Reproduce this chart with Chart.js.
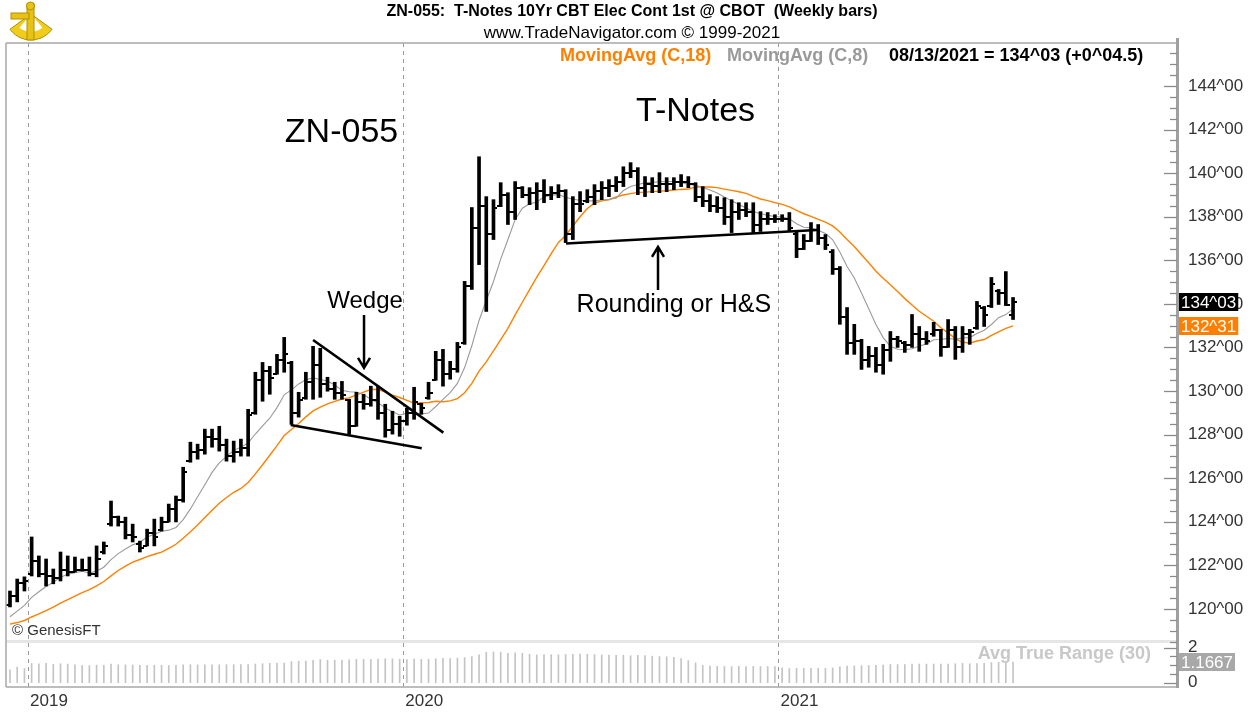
<!DOCTYPE html>
<html>
<head>
<meta charset="utf-8">
<title>ZN-055 T-Notes weekly</title>
<script src="https://cdn.jsdelivr.net/npm/chart.js@4.4.0/dist/chart.umd.min.js"></script>
<style>
  html, body { margin: 0; padding: 0; background: #fff; }
  #wrap { position: relative; width: 1253px; height: 713px; }
</style>
</head>
<body>
<div id="wrap"><canvas id="chart" width="1253" height="713"></canvas></div>
<script>
// weekly bars 12/14/2018 .. 08/13/2021 (index 0 .. 139)
const highs = [
  120.82, 121.37, 121.47, 123.30, 122.43, 122.29, 121.83, 122.61, 122.43, 122.38,
  122.29, 122.38, 122.89, 123.07, 124.95, 124.26, 124.21, 123.89, 123.11, 123.66,
  124.12, 124.21, 124.81, 125.18, 126.50, 127.65, 127.56, 128.25, 128.25, 128.38,
  127.79, 127.70, 127.79, 129.16, 130.86, 131.31, 131.13, 131.68, 132.46, 131.36,
  129.94, 130.86, 132.05, 131.96, 130.63, 130.40, 130.44, 129.62, 129.94, 129.85,
  130.22, 130.22, 129.39, 129.07, 128.84, 129.21, 130.17, 129.44, 130.40, 131.82,
  131.91, 131.36, 132.23, 135.03, 138.42, 140.75, 138.92, 138.78, 139.56, 139.10,
  139.61, 139.38, 139.33, 139.56, 139.70, 139.38, 139.47, 139.24, 138.92, 139.15,
  139.24, 139.47, 139.61, 139.70, 139.84, 140.29, 140.48, 140.25, 139.84, 139.79,
  140.02, 139.79, 139.79, 139.93, 139.84, 139.56, 139.38, 139.01, 138.92, 138.87,
  138.78, 138.64, 138.64, 138.64, 138.23, 138.19, 138.09, 138.09, 138.19, 137.32,
  137.18, 137.73, 137.64, 137.18, 136.49, 135.71, 133.83, 133.06, 132.37, 132.05,
  132.00, 132.14, 132.73, 132.51, 132.28, 133.51, 132.96, 132.73, 133.15, 132.83,
  133.28, 132.96, 132.96, 132.83, 134.11, 133.88, 135.21, 134.66, 135.48, 134.29
];
const lows = [
  120.09, 120.32, 120.82, 121.51, 121.47, 121.05, 121.15, 121.28, 121.51, 121.69,
  121.74, 121.51, 121.47, 122.52, 123.80, 123.80, 123.21, 123.07, 122.61, 122.89,
  122.89, 123.57, 123.99, 123.99, 124.90, 126.73, 126.87, 127.10, 127.42, 127.24,
  126.78, 126.73, 127.01, 127.01, 128.93, 129.53, 129.85, 130.77, 130.86, 128.47,
  128.80, 129.62, 129.62, 129.71, 129.99, 129.62, 129.62, 128.02, 128.38, 129.16,
  129.30, 128.70, 127.88, 128.02, 127.92, 128.43, 128.70, 128.93, 129.62, 130.49,
  130.22, 130.54, 130.86, 132.14, 134.66, 135.80, 133.65, 136.95, 138.46, 137.64,
  137.87, 138.87, 138.55, 138.32, 138.64, 138.78, 138.87, 136.81, 136.95, 138.23,
  138.64, 138.55, 138.78, 138.92, 139.15, 139.38, 139.79, 139.01, 138.92, 139.10,
  139.10, 139.15, 139.24, 139.38, 139.33, 138.69, 138.46, 138.23, 138.19, 137.64,
  137.27, 137.87, 138.00, 137.27, 137.32, 137.64, 137.73, 137.78, 137.32, 136.12,
  136.49, 136.86, 136.72, 136.49, 135.35, 133.06, 131.68, 131.68, 130.99, 131.09,
  130.86, 130.77, 131.36, 132.00, 131.77, 132.00, 131.82, 132.14, 132.51, 131.59,
  132.00, 131.45, 131.77, 132.14, 132.83, 132.96, 133.83, 133.97, 133.92, 133.28
];
const opens = [
  120.2, 120.6, 121.2, 121.6, 122.2, 121.6, 121.5, 121.4, 121.8, 121.7,
  121.8, 121.8, 121.6, 122.6, 123.9, 124.2, 124.0, 123.4, 123.0, 122.9,
  123.5, 123.6, 124.0, 124.6, 125.0, 126.8, 127.2, 127.3, 127.9, 127.8,
  127.5, 127.0, 127.2, 127.4, 129.0, 130.5, 130.9, 130.8, 131.4, 131.3,
  129.0, 129.7, 130.4, 131.2, 130.3, 130.1, 129.9, 129.6, 128.4, 129.5,
  129.4, 129.6, 129.0, 128.2, 128.5, 128.6, 129.0, 129.4, 129.7, 130.5,
  131.4, 130.8, 131.0, 132.2, 134.8, 137.5, 138.5, 137.2, 138.5, 139.0,
  138.2, 139.3, 139.0, 139.1, 139.2, 139.0, 139.1, 139.2, 137.2, 138.6,
  138.7, 138.9, 139.2, 139.3, 139.4, 139.6, 140.0, 140.1, 139.3, 139.5,
  139.4, 139.5, 139.5, 139.6, 139.6, 139.5, 138.9, 138.7, 138.5, 138.4,
  138.0, 138.2, 138.3, 138.2, 137.6, 137.9, 137.9, 137.9, 137.9, 137.2,
  136.5, 136.9, 137.4, 137.0, 136.4, 135.6, 133.4, 132.2, 132.3, 131.4,
  131.6, 131.2, 131.9, 132.4, 132.2, 132.1, 132.6, 132.4, 132.6, 132.8,
  132.0, 132.8, 132.0, 132.6, 132.9, 133.8, 133.9, 134.6, 134.5, 133.5
];
const closes = [
  120.6, 121.2, 121.3, 122.2, 121.6, 121.5, 121.4, 121.8, 121.7, 121.8,
  121.8, 121.6, 122.3, 122.9, 124.2, 124.0, 123.4, 123.3, 122.8, 123.5,
  123.3, 124.0, 124.6, 125.0, 126.3, 127.2, 127.3, 127.9, 127.8, 127.5,
  127.0, 127.2, 127.4, 128.9, 130.5, 130.9, 130.6, 131.4, 131.7, 129.0,
  129.6, 130.4, 131.2, 130.3, 130.1, 129.9, 129.8, 128.4, 129.5, 129.4,
  129.6, 129.0, 128.2, 128.5, 128.6, 129.0, 129.5, 129.2, 129.9, 131.4,
  130.8, 131.0, 132.0, 134.8, 137.5, 138.5, 137.2, 138.4, 139.0, 138.2,
  139.3, 139.0, 139.1, 139.2, 139.0, 139.1, 139.2, 137.2, 138.6, 138.6,
  138.9, 139.2, 139.3, 139.4, 139.6, 140.0, 140.1, 139.3, 139.5, 139.4,
  139.5, 139.5, 139.6, 139.6, 139.5, 138.9, 138.7, 138.5, 138.4, 138.0,
  138.2, 138.3, 138.2, 137.6, 137.9, 137.9, 137.9, 137.9, 137.5, 136.5,
  136.9, 137.4, 137.0, 136.7, 135.6, 133.4, 132.2, 132.3, 131.4, 131.6,
  131.2, 131.9, 132.4, 132.3, 132.1, 132.6, 132.4, 132.3, 132.8, 132.0,
  132.8, 132.0, 132.6, 132.7, 133.9, 133.5, 134.9, 134.5, 133.953, 134.094
];
// closes of the 17 weeks before the first bar, only to start the averages
const priorCloses = [119.9, 119.6, 119.3, 119.0, 118.8, 118.6, 118.5, 118.7, 118.9,
  119.0, 119.1, 119.2, 119.3, 119.5, 119.6, 119.8, 120.0];

// drawn trend lines (bar index, price)
const wedgeUpper = [{ x: 42.0, y: 132.34 }, { x: 60.05, y: 128.09 }];
const wedgeLower = [{ x: 38.9, y: 128.44 }, { x: 57.05, y: 127.37 }];
const neckline = [{ x: 77.05, y: 136.77 }, { x: 111.83, y: 137.39 }];

const yearTicks = [2.5, 54.5, 106.5];
const yearLabels = ["2019", "2020", "2021"];
const priceTicks = [120, 122, 124, 126, 128, 130, 132, 134, 136, 138, 140, 142, 144];
const atrTicks = [0, 2];
const atrReadout = 1.1667;
const readoutText = "08/13/2021 = 134^03 (+0^04.5)";

const FONT = "'Liberation Sans', Arial, sans-serif";
const ORANGE = "#ff8000";
const GRAY = "#9a9a9a";

// price in 32nds, e.g. 134^03
function fmt32(v) {
  const whole = Math.floor(v + 1e-9);
  const n = Math.floor((v - whole) * 32 + 1e-6);
  return whole + "^" + String(n).padStart(2, "0");
}

function movingAvg(len) {
  const all = priorCloses.concat(closes);
  const off = priorCloses.length;
  return closes.map((c, i) => {
    const win = all.slice(Math.max(0, off + i - len + 1), off + i + 1);
    return win.reduce((a, b) => a + b, 0) / win.length;
  });
}

function avgTrueRange(len) {
  const tr = highs.map((h, i) => {
    const l = lows[i];
    if (i === 0) return h - l;
    const pc = closes[i - 1];
    return Math.max(h - l, Math.abs(h - pc), Math.abs(l - pc));
  });
  return tr.map((v, i) => {
    const win = tr.slice(Math.max(0, i - len + 1), i + 1);
    return win.reduce((a, b) => a + b, 0) / win.length;
  });
}

// small horizontal tick used as point style: open on the left, close on the right
function tickImage(side) {
  const c = document.createElement("canvas");
  c.width = 8;
  c.height = 2;
  const g = c.getContext("2d");
  g.fillStyle = "#000";
  g.fillRect(side === "left" ? 0 : 4, 0, 4, 2);
  return c;
}

const ma18 = movingAvg(18);
const ma8 = movingAvg(8);
const atr30 = avgTrueRange(30);

const notes = [
  { text: "ZN-055", x: 45.94, y: 141.84, size: 34 },
  { text: "T-Notes", x: 95.0, y: 142.81, size: 34 },
  { text: "Wedge", x: 49.2, y: 134.09, size: 24 },
  { text: "Rounding or H&S", x: 92.0, y: 133.95, size: 25 }
];
const arrows = [
  { x: 49.06, from: 133.49, to: 131.06 },
  { x: 89.8, from: 134.64, to: 136.61 }
];

function drawArrow(ctx, x, y1, y2) {
  const dir = y2 > y1 ? -1 : 1;
  ctx.beginPath();
  ctx.moveTo(x, y1);
  ctx.lineTo(x, y2);
  ctx.moveTo(x - 6, y2 + dir * 10);
  ctx.lineTo(x, y2);
  ctx.lineTo(x + 6, y2 + dir * 10);
  ctx.stroke();
}

function drawMarks(ctx, scale, step, majorEvery, right) {
  for (let v = Math.ceil(scale.min / step) * step; v <= scale.max; v += step) {
    const y = Math.round(scale.getPixelForValue(v)) + 0.5;
    const r = v / majorEvery;
    const major = Math.abs(r - Math.round(r)) < 1e-6;
    ctx.beginPath();
    ctx.moveTo(right - (major ? 13 : 7), y);
    ctx.lineTo(right, y);
    ctx.stroke();
  }
}

function readoutBox(ctx, x, y, text, bg) {
  ctx.font = "17px " + FONT;
  const w = ctx.measureText(text).width + 4;
  ctx.fillStyle = bg;
  ctx.fillRect(x, Math.round(y) - 9, w, 18);
  ctx.fillStyle = "#fff";
  ctx.textAlign = "left";
  ctx.textBaseline = "middle";
  ctx.fillText(text, x + 2, Math.round(y) + 1);
}

function drawLogo(ctx) {
  ctx.save();
  ctx.fillStyle = "#f0cc1c";
  ctx.strokeStyle = "#b38f00";
  ctx.lineWidth = 1;
  ctx.beginPath();
  ctx.moveTo(31, 14);
  ctx.arc(31, 14, 26, Math.PI * 0.2, Math.PI * 0.8);
  ctx.closePath();
  ctx.fill();
  ctx.stroke();
  ctx.fillStyle = "#ffffff";
  ctx.beginPath();
  ctx.moveTo(31, 14);
  ctx.arc(31, 14, 18, Math.PI * 0.28, Math.PI * 0.72);
  ctx.closePath();
  ctx.fill();
  ctx.fillStyle = "#e8c215";
  ctx.fillRect(27, 4, 7, 36);
  ctx.strokeRect(27, 4, 7, 36);
  ctx.fillRect(11, 13, 18, 6);
  ctx.strokeRect(11, 13, 18, 6);
  ctx.beginPath();
  ctx.arc(30.5, 6, 4, 0, Math.PI * 2);
  ctx.fill();
  ctx.stroke();
  ctx.restore();
}

const decor = {
  id: "decor",
  beforeDraw(chart) {
    const ctx = chart.ctx;
    ctx.save();
    ctx.fillStyle = "#fff";
    ctx.fillRect(0, 0, chart.width, chart.height);
    ctx.restore();
  },
  beforeDatasetsDraw(chart) {
    const { ctx, chartArea } = chart;
    const atr = chart.scales.atr;
    ctx.save();
    ctx.fillStyle = "#e6e6e6";
    ctx.fillRect(chartArea.left, atr.top - 2, chartArea.right - chartArea.left, 3);
    ctx.restore();
  },
  afterDraw(chart) {
    const { ctx, chartArea } = chart;
    const x = chart.scales.x;
    const price = chart.scales.price;
    const atr = chart.scales.atr;
    const L = chartArea.left, R = chartArea.right, T = chartArea.top, B = chartArea.bottom;
    ctx.save();

    // frame
    ctx.strokeStyle = "#a8a8a8";
    ctx.lineWidth = 1.5;
    ctx.beginPath();
    ctx.moveTo(L, T); ctx.lineTo(R, T);
    ctx.moveTo(L, T); ctx.lineTo(L, B);
    ctx.moveTo(L, B); ctx.lineTo(R, B);
    ctx.stroke();
    ctx.strokeStyle = "#a0a0a0";
    ctx.lineWidth = 3;
    ctx.beginPath();
    ctx.moveTo(R + 0.5, 38); ctx.lineTo(R + 0.5, B + 1);
    ctx.stroke();

    // axis marks inside the frame
    ctx.strokeStyle = "#8a8a8a";
    ctx.lineWidth = 1.3;
    drawMarks(ctx, price, 0.5, 2, R);
    drawMarks(ctx, atr, 0.5, 2, R);

    // header
    ctx.fillStyle = "#000";
    ctx.textAlign = "center";
    ctx.textBaseline = "middle";
    ctx.font = "bold 16px " + FONT;
    ctx.fillText("ZN-055:  T-Notes 10Yr CBT Elec Cont 1st @ CBOT  (Weekly bars)", 632, 12);
    ctx.font = "17px " + FONT;
    ctx.fillText("www.TradeNavigator.com \u00a9 1999-2021", 632, 33);
    ctx.textAlign = "left";
    ctx.font = "bold 18px " + FONT;
    ctx.fillStyle = ORANGE;
    ctx.fillText("MovingAvg (C,18)", 560, 56);
    ctx.fillStyle = GRAY;
    ctx.fillText("MovingAvg (C,8)", 727, 56);
    ctx.fillStyle = "#000";
    ctx.fillText(readoutText, 889, 56);
    drawLogo(ctx);

    // annotations
    ctx.fillStyle = "#000";
    ctx.textAlign = "center";
    notes.forEach(n => {
      ctx.font = n.size + "px " + FONT;
      ctx.fillText(n.text, x.getPixelForValue(n.x), price.getPixelForValue(n.y));
    });
    ctx.strokeStyle = "#000";
    ctx.lineWidth = 2.5;
    arrows.forEach(a => {
      drawArrow(ctx, x.getPixelForValue(a.x), price.getPixelForValue(a.from), price.getPixelForValue(a.to));
    });

    ctx.textAlign = "left";
    ctx.fillStyle = "#333";
    ctx.font = "15px " + FONT;
    ctx.fillText("\u00a9 GenesisFT", L + 6, atr.top - 11);
    ctx.textAlign = "right";
    ctx.fillStyle = "#c8c8c8";
    ctx.font = "bold 18px " + FONT;
    ctx.fillText("Avg True Range (30)", R - 26, atr.top + 12);

    // last value boxes on the axis
    const last = closes.length - 1;
    readoutBox(ctx, R + 2, price.getPixelForValue(closes[last]), fmt32(closes[last]), "#000");
    readoutBox(ctx, R + 2, price.getPixelForValue(ma18[last]), fmt32(ma18[last]), ORANGE);
    readoutBox(ctx, R + 2, atr.getPixelForValue(atrReadout), atrReadout.toFixed(4), "#a8a8a8");
    ctx.restore();
  }
};

const trendStyle = {
  type: "line",
  xAxisID: "x",
  yAxisID: "price",
  borderColor: "#000",
  borderWidth: 2.6,
  pointRadius: 0,
  order: -1
};

new Chart(document.getElementById("chart"), {
  type: "bar",
  data: {
    datasets: [
      Object.assign({ label: "Wedge top", data: wedgeUpper }, trendStyle),
      Object.assign({ label: "Wedge bottom", data: wedgeLower }, trendStyle),
      Object.assign({ label: "Neckline", data: neckline }, trendStyle),
      {
        type: "line",
        label: "Open",
        data: opens.map((v, i) => ({ x: i, y: v })),
        xAxisID: "x",
        yAxisID: "price",
        showLine: false,
        pointStyle: tickImage("left"),
        pointRadius: 3,
        order: 0
      },
      {
        type: "line",
        label: "Close",
        data: closes.map((v, i) => ({ x: i, y: v })),
        xAxisID: "x",
        yAxisID: "price",
        showLine: false,
        pointStyle: tickImage("right"),
        pointRadius: 3,
        order: 0
      },
      {
        type: "bar",
        label: "High-Low",
        data: highs.map((h, i) => ({ x: i, y: [lows[i], h] })),
        xAxisID: "x",
        yAxisID: "price",
        backgroundColor: "#000",
        borderWidth: 0,
        barThickness: 3,
        grouped: false,
        order: 0
      },
      {
        type: "line",
        label: "MovingAvg (C,8)",
        data: ma8.map((v, i) => ({ x: i, y: v })),
        xAxisID: "x",
        yAxisID: "price",
        borderColor: GRAY,
        borderWidth: 1.1,
        pointRadius: 0,
        tension: 0,
        order: 1
      },
      {
        type: "line",
        label: "MovingAvg (C,18)",
        data: ma18.map((v, i) => ({ x: i, y: v })),
        xAxisID: "x",
        yAxisID: "price",
        borderColor: ORANGE,
        borderWidth: 1.4,
        pointRadius: 0,
        tension: 0,
        order: 2
      },
      {
        type: "bar",
        label: "Avg True Range (30)",
        data: atr30.map((v, i) => ({ x: i, y: v })),
        xAxisID: "x",
        yAxisID: "atr",
        backgroundColor: "#c4c4c4",
        borderWidth: 0,
        barThickness: 1,
        grouped: false,
        order: 3
      }
    ]
  },
  options: {
    responsive: false,
    animation: false,
    events: [],
    layout: { padding: { top: 43, left: 6, right: 0, bottom: 0 } },
    plugins: {
      legend: { display: false },
      tooltip: { enabled: false },
      title: { display: false }
    },
    scales: {
      x: {
        type: "linear",
        min: -0.554,
        max: 161.72,
        offset: false,
        afterBuildTicks: s => { s.ticks = yearTicks.map(v => ({ value: v })); },
        afterFit: s => { s.height = 26; },
        grid: { color: "#9a9a9a", lineWidth: 1, drawTicks: false, offset: false },
        border: { display: false, dash: [4, 4] },
        ticks: {
          callback: (v, i) => yearLabels[i],
          align: "start",
          labelOffset: 2,
          padding: 4,
          maxRotation: 0,
          autoSkip: false,
          color: "#333",
          font: { family: FONT, size: 17 }
        }
      },
      price: {
        axis: "y",
        type: "linear",
        position: "right",
        stack: "panes",
        stackWeight: 599,
        min: 118.48,
        max: 145.97,
        afterBuildTicks: s => { s.ticks = priceTicks.map(v => ({ value: v })); },
        afterFit: s => { s.width = 76; },
        grid: { display: false, drawTicks: false },
        border: { display: false },
        ticks: {
          callback: v => fmt32(v),
          padding: 11,
          color: "#333",
          font: { family: FONT, size: 17 }
        }
      },
      atr: {
        axis: "y",
        type: "linear",
        position: "right",
        stack: "panes",
        stackWeight: 45,
        min: -0.25,
        max: 2.33,
        afterBuildTicks: s => { s.ticks = atrTicks.map(v => ({ value: v })); },
        afterFit: s => { s.width = 76; },
        grid: { display: false, drawTicks: false },
        border: { display: false },
        ticks: {
          callback: v => String(v),
          padding: 11,
          color: "#333",
          font: { family: FONT, size: 17 }
        }
      }
    }
  },
  plugins: [decor]
});
</script>
</body>
</html>
